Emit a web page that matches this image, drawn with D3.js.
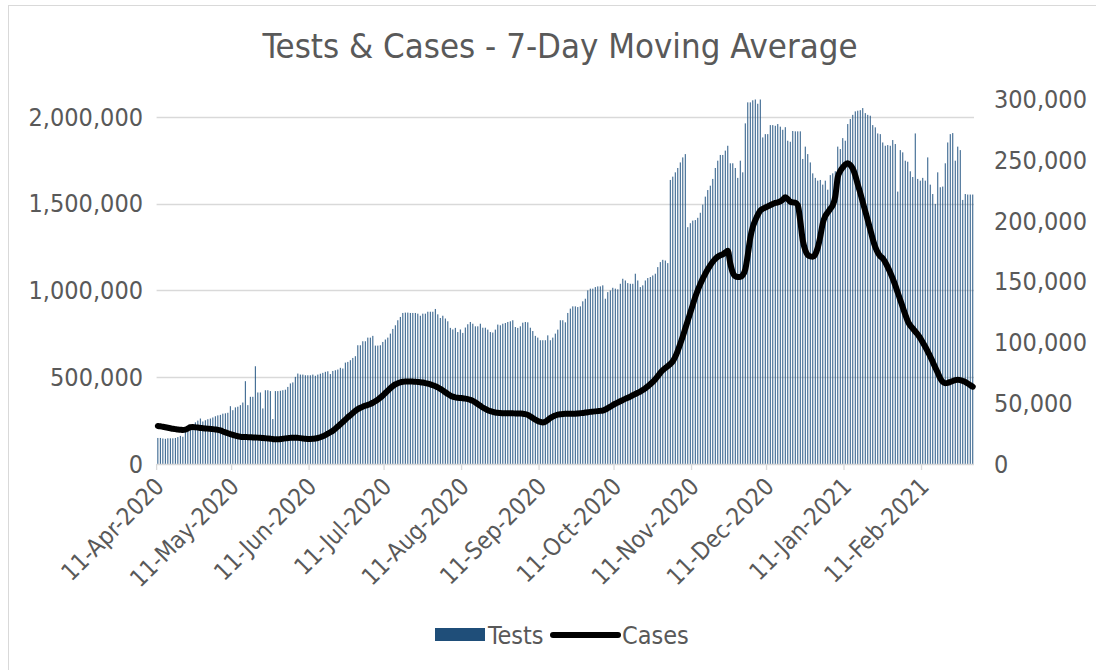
<!DOCTYPE html>
<html>
<head>
<meta charset="utf-8">
<script src="https://cdn.jsdelivr.net/npm/d3@7"></script>
<style>
  body { margin: 0; background: #fff; }
  text { font-family: "Liberation Sans Narrow", "DejaVu Sans Condensed", "Roboto", sans-serif; fill: #595959; }
</style>
</head>
<body>
<svg id="chart" width="1096" height="670"></svg>
<script>
// first day of the series, one bar per day after it
const startDate = "2020-04-11";

const tickLabels = ["11-Apr-2020", "11-May-2020", "11-Jun-2020", "11-Jul-2020", "11-Aug-2020", "11-Sep-2020",
    "11-Oct-2020", "11-Nov-2020", "11-Dec-2020", "11-Jan-2021", "11-Feb-2021"];

const leftTicks = [0, 500000, 1000000, 1500000, 2000000];
const rightTicks = [0, 50000, 100000, 150000, 200000, 250000, 300000];

// tests, 7-day moving average
const tests = [
    150000, 150000, 147000, 145000, 148000, 148000, 148000, 150000, 155000, 162000, 157000,
    185000, 200000, 215000, 225000, 240000, 250000, 262000, 245000, 252000, 258000,
    262000, 268000, 275000, 280000, 283000, 290000, 292000, 295000, 333000, 310000,
    326000, 330000, 339000, 354000, 477000, 339000, 387000, 387000, 563000, 412000,
    412000, 320000, 425000, 425000, 420000, 259000, 420000, 420000, 422000, 425000,
    428000, 444000, 464000, 470000, 502000, 521000, 515000, 515000, 511000, 511000,
    511000, 515000, 508000, 515000, 520000, 525000, 531000, 534000, 518000, 536000,
    540000, 544000, 554000, 550000, 584000, 588000, 598000, 611000, 621000, 684000,
    684000, 707000, 707000, 728000, 728000, 738000, 682000, 682000, 684000, 703000,
    717000, 728000, 751000, 778000, 799000, 828000, 847000, 870000, 872000, 872000,
    870000, 870000, 870000, 866000, 854000, 866000, 866000, 877000, 877000, 877000,
    893000, 862000, 841000, 854000, 838000, 822000, 784000, 775000, 784000, 760000,
    775000, 755000, 786000, 805000, 818000, 808000, 793000,
    793000, 808000, 785000, 785000, 774000, 760000, 757000, 774000, 803000, 799000,
    808000, 812000, 818000, 822000, 828000, 789000, 784000, 793000, 814000, 818000,
    816000, 785000, 766000, 738000, 728000, 713000, 713000, 713000, 741000, 713000,
    728000, 751000, 774000, 828000, 828000, 816000, 870000, 895000, 908000, 908000,
    904000, 908000, 937000, 952000, 1000000, 1010000, 1010000, 1019000, 1023000, 1023000,
    1029000, 952000, 990000, 1000000, 1015000, 1010000, 1006000, 1038000, 1067000, 1057000,
    1042000, 1038000, 1038000, 1096000, 1057000, 1019000, 1029000, 1057000, 1071000, 1077000,
    1086000, 1096000, 1134000, 1163000, 1176000, 1172000, 1157000,
    1636000, 1655000, 1680000, 1705000, 1737000, 1766000, 1785000, 1364000,
    1387000, 1402000, 1405000, 1418000, 1447000, 1494000, 1540000, 1578000, 1603000, 1642000,
    1705000, 1747000, 1780000, 1780000, 1805000, 1833000, 1732000, 1732000, 1705000, 1648000,
    1747000, 1680000, 1962000, 2083000, 2083000, 2095000, 2130000, 2075000, 2130000, 1881000,
    1900000, 1900000, 1952000, 1952000, 1948000, 1958000, 1943000, 1925000, 1940000, 1862000,
    1856000, 1918000, 1916000, 1916000, 1916000, 1757000, 1828000, 1785000, 1737000, 1674000,
    1648000, 1632000, 1636000, 1609000, 1632000, 1580000, 1664000, 1674000, 1686000, 1828000,
    1814000, 1877000, 1862000, 1958000, 1987000, 2011000, 2031000, 2035000, 2038000, 2050000,
    2021000, 2011000, 2006000, 1952000, 1939000, 1904000, 1900000, 1852000, 1833000, 1837000,
    1833000, 1866000, 1843000, 1569000, 1808000, 1795000, 1747000, 1741000, 1686000, 1653000,
    1904000, 1642000, 1632000, 1648000, 1632000, 1766000, 1609000, 1555000, 1498000, 1680000,
    1594000, 1598000, 1732000, 1852000, 1900000, 1906000, 1747000, 1828000, 1808000, 1521000,
    1555000, 1552000, 1552000, 1552000
];

// cases, 7-day moving average
const cases = [
    31300, 31000, 30600, 30200, 29800, 29400, 29000, 28700, 28400, 28200,
    28000, 28300, 29200, 30200, 30400, 30200, 30000, 29700, 29500, 29300,
    29100, 28900, 28700, 28400, 28100, 27600, 26800, 26000, 25300, 24600,
    23900, 23300, 22800, 22500, 22300, 22200, 22100, 22000, 21900, 21800,
    21700, 21600, 21400, 21200, 21000, 20800, 20500, 20300, 20300, 20500,
    20800, 21100, 21300, 21500, 21600, 21600, 21500, 21300, 21000, 20700,
    20600, 20600, 20700, 21000, 21400, 22000, 22800, 23800, 24900, 26100,
    27400, 29000, 30800, 32700, 34600, 36500, 38400, 40200, 42000, 43800,
    45200, 46300, 47200, 48000, 48600, 49400, 50400, 51600, 53000, 54600,
    56400, 58400, 60400, 62400, 64100, 65500, 66500, 67200, 67600, 67800,
    67900, 67900, 67800, 67700, 67500, 67300, 67000, 66600, 66100, 65500,
    64800, 64000, 63000, 61800, 60500, 59000, 57600, 56300, 55400, 54800,
    54500, 54300, 54100, 53800, 53400, 52800, 51900, 50700, 49300, 47900,
    46500, 45300, 44300, 43500, 42900, 42400, 42100, 41900, 41800, 41700,
    41700, 41700, 41700, 41600, 41600, 41500, 41400, 41100, 40400, 39200,
    37800, 36500, 35400, 34600, 34200, 34800, 36200, 37800, 39000, 39900,
    40600, 41000, 41200, 41300, 41300, 41300, 41300, 41400, 41600, 41800,
    42000, 42300, 42600, 42900, 43100, 43300, 43500, 43700, 44000, 44800,
    46000, 47200, 48500, 49600, 50600, 51600, 52600, 53600, 54500, 55500,
    56600, 57600, 58600, 59600, 60800, 62300, 63900, 65700, 67600, 69800,
    72300, 75000, 77300, 79000, 80600, 82300, 84600, 88200, 93200, 99000,
    105000, 111500, 118000, 124500, 131000, 137500, 143000, 148000, 152500, 156500,
    160200, 163500, 166400, 168800, 170500, 171800, 172500, 174000, 175500, 165000,
    157500, 154500, 153800, 154000, 155500, 160000, 172000, 186000, 195000, 200500,
    205000, 208500, 210000, 211000, 212000, 213000, 214000, 214800, 215200, 216000,
    217500, 219400, 218000, 215800, 215300, 215000, 213000, 200000, 184000, 176000,
    172000, 170800, 170600, 172500, 178000, 187000, 198000, 204000, 207000, 210000,
    213000, 220000, 236000, 241000, 244000, 246500, 247500, 246000, 243000, 237500,
    230000, 223000, 215500, 208000, 200500, 193000, 185000, 178500, 174000, 171000,
    169200, 166000, 162000, 157500, 152500, 147000, 141000, 135000, 129000, 123000,
    117500, 114000, 111500, 109000, 106500, 103500, 100000, 96500, 92500, 88500,
    84000, 79500, 75000, 70500, 67500, 66500, 66800, 67500, 68300, 69000,
    69300, 69000, 68300, 67500, 66300, 64900, 63600
];

const parse = d3.utcParse("%Y-%m-%d");
const parseTick = d3.utcParse("%d-%b-%Y");
const day0 = parse(startDate);
const days = d3.utcDay.range(day0, d3.utcDay.offset(day0, tests.length));

const plotLeft = 156.6, plotRight = 974, plotTop = 99.4, plotBottom = 464;
const labelSize = "25px";

const svg = d3.select("#chart");

// outer chart frame
svg.append("rect")
    .attr("x", 8.5).attr("y", 5.5)
    .attr("width", 1100).attr("height", 700)
    .attr("fill", "none")
    .attr("stroke", "#d9d9d9");

const x = d3.scaleUtc()
    .domain([day0, d3.utcDay.offset(day0, tests.length)])
    .range([plotLeft, plotRight]);
const slot = (plotRight - plotLeft) / tests.length;

const yL = d3.scaleLinear().domain([0, 2100000]).range([plotBottom, plotTop]);
const yR = d3.scaleLinear().domain([0, 300000]).range([plotBottom, plotTop]);

const fmt = d3.format(",");

// title
svg.append("text")
    .attr("x", 560).attr("y", 58)
    .attr("text-anchor", "middle")
    .style("font-size", "34.5px")
    .text("Tests & Cases - 7-Day Moving Average");

// gridlines
svg.append("g")
    .selectAll("line")
    .data(leftTicks.slice(1))
    .join("line")
    .attr("x1", plotLeft).attr("x2", plotRight)
    .attr("y1", d => Math.round(yL(d)) + 0.5)
    .attr("y2", d => Math.round(yL(d)) + 0.5)
    .attr("stroke", "#d9d9d9")
    .attr("stroke-width", 1.3);

svg.append("clipPath").attr("id", "plot")
    .append("rect")
    .attr("x", plotLeft).attr("y", plotTop)
    .attr("width", plotRight - plotLeft).attr("height", plotBottom - plotTop);

// bars
svg.append("g")
    .attr("clip-path", "url(#plot)")
    .selectAll("rect")
    .data(tests)
    .join("rect")
    .attr("x", (d, i) => x(days[i]) + slot / 2 - 0.5)
    .attr("width", 1)
    .attr("y", d => yL(d))
    .attr("height", d => plotBottom - yL(d))
    .attr("fill", "#265784");

// x axis line and ticks
svg.append("line")
    .attr("x1", plotLeft).attr("x2", plotRight)
    .attr("y1", plotBottom + 0.5).attr("y2", plotBottom + 0.5)
    .attr("stroke", "#d9d9d9")
    .attr("stroke-width", 1.3);

const tickDates = tickLabels.map(parseTick);

svg.append("g")
    .selectAll("line")
    .data(tickDates)
    .join("line")
    .attr("x1", d => x(d)).attr("x2", d => x(d))
    .attr("y1", plotBottom).attr("y2", plotBottom + 6)
    .attr("stroke", "#d9d9d9")
    .attr("stroke-width", 1.3);

svg.append("g")
    .selectAll("text")
    .data(tickDates)
    .join("text")
    .attr("transform", d => "translate(" + (x(d) + 3) + "," + (plotBottom + 18) + ") rotate(-45)")
    .attr("text-anchor", "end")
    .attr("dy", "0.35em")
    .style("font-size", "24px")
    .text((d, i) => tickLabels[i]);

// left axis labels
svg.append("g")
    .selectAll("text")
    .data(leftTicks)
    .join("text")
    .attr("x", 143).attr("y", d => yL(d))
    .attr("dy", "0.35em")
    .attr("text-anchor", "end")
    .style("font-size", labelSize)
    .text(d => fmt(d));

// right axis labels
svg.append("g")
    .selectAll("text")
    .data(rightTicks)
    .join("text")
    .attr("x", 994).attr("y", d => yR(d))
    .attr("dy", "0.35em")
    .style("font-size", labelSize)
    .text(d => fmt(d));

// cases line
const line = d3.line()
    .x((d, i) => x(days[i]) + slot / 2)
    .y(d => yR(d))
    .curve(d3.curveMonotoneX);

svg.append("path")
    .datum(cases)
    .attr("d", line)
    .attr("fill", "none")
    .attr("stroke", "#000")
    .attr("stroke-width", 6)
    .attr("stroke-linejoin", "round")
    .attr("stroke-linecap", "round");

// legend
const legend = svg.append("g");
legend.append("rect")
    .attr("x", 435).attr("y", 628)
    .attr("width", 50).attr("height", 13)
    .attr("fill", "#1f4e79");
legend.append("text")
    .attr("x", 488).attr("y", 635)
    .attr("dy", "0.35em")
    .style("font-size", labelSize)
    .text("Tests");
legend.append("line")
    .attr("x1", 553).attr("x2", 618)
    .attr("y1", 635).attr("y2", 635)
    .attr("stroke", "#000")
    .attr("stroke-width", 6)
    .attr("stroke-linecap", "round");
legend.append("text")
    .attr("x", 622).attr("y", 635)
    .attr("dy", "0.35em")
    .style("font-size", labelSize)
    .text("Cases");
</script>
</body>
</html>
